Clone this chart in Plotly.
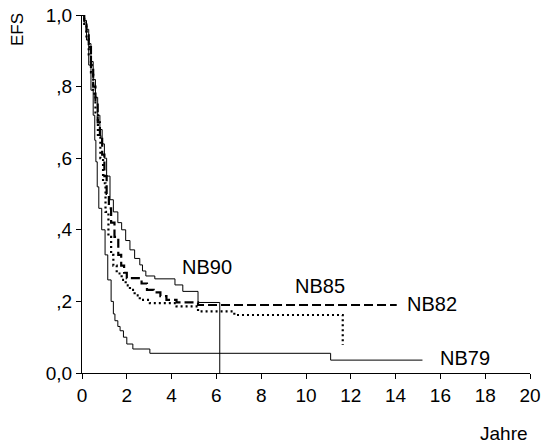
import plotly.graph_objects as go

# Kaplan-Meier EFS step data (years, survival)
nb79_t = [0, 0.1, 0.2, 0.3, 0.4, 0.5, 0.57, 0.62, 0.68, 0.75, 0.88, 1.03, 1.15, 1.3, 1.4, 1.47,
          1.6, 1.7, 1.85, 2.0, 2.27, 3.03, 11.1, 15.2]
nb79_s = [1.0, 0.98, 0.93, 0.86, 0.79, 0.72, 0.65, 0.59, 0.52, 0.46, 0.40, 0.33, 0.26, 0.20, 0.165, 0.146,
          0.13, 0.118, 0.10, 0.081, 0.067, 0.055, 0.036, 0.036]

nb82_t = [0, 0.1, 0.2, 0.3, 0.4, 0.5, 0.6, 0.7, 0.8, 0.9, 1.0, 1.1, 1.2, 1.3, 1.45, 1.62, 1.75, 1.88,
          2.0, 2.66, 2.9, 3.2, 3.5, 3.77, 4.22, 5.18, 14.05]
nb82_s = [1.0, 0.98, 0.95, 0.91, 0.86, 0.80, 0.75, 0.70, 0.66, 0.61, 0.55, 0.50, 0.46, 0.42, 0.38, 0.33, 0.30, 0.28,
          0.265, 0.25, 0.232, 0.225, 0.215, 0.204, 0.197, 0.19, 0.19]

nb85_t = [0, 0.1, 0.2, 0.3, 0.4, 0.5, 0.6, 0.71, 0.82, 0.94, 1.05, 1.18, 1.3, 1.4, 1.55, 1.77, 1.95,
          2.14, 2.35, 2.58, 3.03, 4.22, 5.18, 6.8, 11.64]
nb85_s = [1.0, 0.975, 0.94, 0.89, 0.84, 0.78, 0.72, 0.66, 0.60, 0.53, 0.45, 0.38, 0.33, 0.30, 0.278, 0.26, 0.245,
          0.232, 0.217, 0.204, 0.195, 0.186, 0.172, 0.162, 0.078]

nb90_t = [0, 0.1, 0.2, 0.3, 0.4, 0.5, 0.6, 0.7, 0.8, 0.9, 1.0, 1.1, 1.25, 1.4, 1.6, 1.77, 1.95, 2.14,
          2.35, 2.58, 2.7, 2.85, 3.25, 4.15, 4.5, 5.18, 6.15]
nb90_s = [1.0, 0.985, 0.96, 0.92, 0.87, 0.82, 0.77, 0.72, 0.68, 0.64, 0.60, 0.55, 0.484, 0.45, 0.42, 0.40, 0.37, 0.344,
          0.32, 0.302, 0.285, 0.271, 0.263, 0.246, 0.228, 0.197, 0.0]

series_names = ["NB79", "NB82", "NB85", "NB90"]
label_x = [17.12, 15.61, 10.63, 5.58]
label_y = [0.043, 0.193, 0.243, 0.297]

x_ticks = [0, 2, 4, 6, 8, 10, 12, 14, 16, 18, 20]
y_ticks = [0, 0.2, 0.4, 0.6, 0.8, 1.0]
y_ticklabels = ["0,0", ",2", ",4", ",6", ",8", "1,0"]

FONT = "Liberation Sans, Arial, sans-serif"

fig = go.Figure()
fig.add_trace(go.Scatter(x=nb79_t, y=nb79_s, mode="lines", line_shape="hv",
                         line=dict(color="black", width=1), name="NB79"))
fig.add_trace(go.Scatter(x=nb82_t, y=nb82_s, mode="lines", line_shape="hv",
                         line=dict(color="black", width=2.2, dash="9px,4px"), name="NB82"))
fig.add_trace(go.Scatter(x=nb85_t, y=nb85_s, mode="lines", line_shape="hv",
                         line=dict(color="black", width=2.2, dash="2px,3px"), name="NB85"))
fig.add_trace(go.Scatter(x=nb90_t, y=nb90_s, mode="lines", line_shape="hv",
                         line=dict(color="black", width=1), name="NB90"))

for name, lx, ly in zip(series_names, label_x, label_y):
    fig.add_annotation(x=lx, y=ly, xref="x", yref="y", text=name, showarrow=False,
                       font=dict(family=FONT, size=20, color="black"),
                       xanchor="center", yanchor="middle")

fig.add_annotation(x=-0.145, y=0.958, xref="paper", yref="paper", text="EFS", showarrow=False,
                   textangle=-90, font=dict(family=FONT, size=17, color="black"),
                   xanchor="center", yanchor="middle")
fig.add_annotation(x=1.0, y=-0.168, xref="paper", yref="paper", text="Jahre", showarrow=False,
                   font=dict(family=FONT, size=19, color="black"),
                   xanchor="right", yanchor="middle")

fig.update_layout(
    width=543, height=444,
    margin=dict(l=82, r=13, t=15, b=71),
    paper_bgcolor="white", plot_bgcolor="white",
    showlegend=False,
    font=dict(family=FONT, size=19, color="black"),
)
fig.update_xaxes(range=[0, 20], tickvals=x_ticks, ticks="outside", ticklen=5, tickcolor="black",
                 showline=True, linecolor="black", linewidth=1, showgrid=False, zeroline=False,
                 automargin=False, tickfont=dict(family=FONT, size=19, color="black"))
fig.update_yaxes(range=[0, 1.0], tickvals=y_ticks, ticktext=y_ticklabels, ticks="outside", ticklen=5,
                 tickcolor="black", showline=True, linecolor="black", linewidth=1, showgrid=False,
                 zeroline=False, automargin=False, tickfont=dict(family=FONT, size=19, color="black"))

fig.write_html("out.html")
